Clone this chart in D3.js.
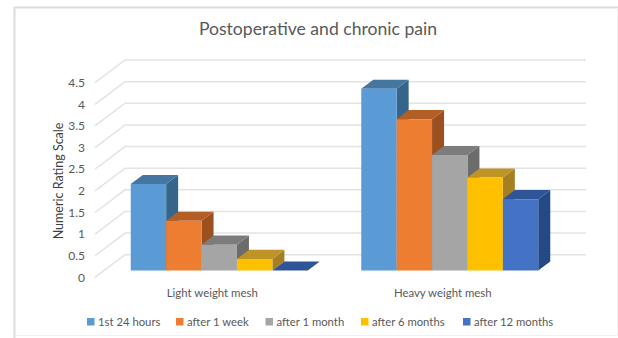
<!DOCTYPE html>
<html>
<head>
<meta charset="utf-8">
<script src="https://cdn.jsdelivr.net/npm/d3@7/dist/d3.min.js"></script>
<style>
  html, body { margin: 0; padding: 0; background: #fff; }
  svg { display: block; font-family: Lato, "Open Sans", sans-serif; }
</style>
</head>
<body>
<svg id="chart" width="618" height="338"></svg>
<script>
// Pain scores per mesh type and follow-up time
const categories = ["Light weight mesh", "Heavy weight mesh"];
const seriesNames = ["1st 24 hours", "after 1 week", "after 1 month", "after 6 months", "after 12 months"];
const lightMesh = [2.0, 1.15, 0.6, 0.27, 0.0];
const heavyMesh = [4.2, 3.5, 2.67, 2.15, 1.65];
const tickValues = [0, 0.5, 1, 1.5, 2, 2.5, 3, 3.5, 4, 4.5];
const frontColors = ["#5b9bd5", "#ed7d31", "#a5a5a5", "#ffc000", "#4472c4"];
const topColors = ["#44769f", "#b25e25", "#7c7c7c", "#bf9426", "#2f5597"];
const sideColors = ["#36658c", "#9c5020", "#6c6c6c", "#a67f24", "#234a85"];

const svg = d3.select("#chart");

// Chart frame: heavier on the top and left edges
svg.append("path").attr("d", "M14.5,338V7.5H618").attr("fill", "none").attr("stroke", "#dcdcdc").attr("stroke-width", 2);
svg.append("path").attr("d", "M617.5,8V335.5H15").attr("fill", "none").attr("stroke", "#f1f1f1").attr("stroke-width", 1);

// Oblique projection: depth runs from 0 at the front to 1 at the back wall
const depthX = 30, depthY = 22.7;
const x0 = d3.scaleBand().domain(categories).range([95, 556]);
const x1 = d3.scaleBand().domain(seriesNames).range([0, 1]);
const y = d3.scaleLinear().domain([0, 4.5]).range([277.4, 82.7]);
const px = (x, z) => x + depthX * z;
const py = (v, z) => y(v) - depthY * z;

// Wall and floor gridlines
const grid = svg.append("g").attr("fill", "none").attr("stroke", "#e3e3e3").attr("stroke-width", 1.5);
grid.selectAll("path").data(tickValues).join("path")
  .attr("d", v => d3.line()([
    [px(x0.range()[0], 0), py(v, 0)],
    [px(x0.range()[0], 1), py(v, 1)],
    [px(x0.range()[1], 1), py(v, 1)]
  ]));

// Bars sit in the middle of the depth range
const zFront = 0.3, zBack = 0.7;
const groupPad = 26.75;
const innerWidth = x0.bandwidth() - groupPad * 2;
const barX = (cat, name) => x0(cat) + groupPad + x1(name) * innerWidth;
const barW = innerWidth * x1.bandwidth();

const rows = categories.map((c, i) => ({ cat: c, values: i === 0 ? lightMesh : heavyMesh }));
const poly = pts => d3.line()(pts) + "Z";
rows.forEach(row => {
  const bars = row.values.map((v, i) => ({ v, i, name: seriesNames[i] }));
  // Painted left to right, so each bar's front hides the lower part of its neighbour's side
  const sel = svg.append("g").selectAll("g").data(bars).join("g");
  sel.append("path").attr("fill", d => sideColors[d.i]).attr("d", d => {
    const a = barX(row.cat, d.name) + barW;
    return poly([[px(a, zFront), py(d.v, zFront)], [px(a, zBack), py(d.v, zBack)], [px(a, zBack), py(0, zBack)], [px(a, zFront), py(0, zFront)]]);
  });
  sel.append("path").attr("fill", d => topColors[d.i]).attr("d", d => {
    const a = barX(row.cat, d.name), b = a + barW;
    return poly([[px(a, zFront), py(d.v, zFront)], [px(b, zFront), py(d.v, zFront)], [px(b, zBack), py(d.v, zBack)], [px(a, zBack), py(d.v, zBack)]]);
  });
  sel.append("path").attr("fill", d => frontColors[d.i]).attr("d", d => {
    const a = barX(row.cat, d.name), b = a + barW;
    return poly([[px(a, zFront), py(d.v, zFront)], [px(b, zFront), py(d.v, zFront)], [px(b, zFront), py(0, zFront)], [px(a, zFront), py(0, zFront)]]);
  });
});

// Value axis labels
svg.append("g").selectAll("text").data(tickValues).join("text")
  .attr("x", 85).attr("y", v => y(v)).attr("dy", "0.35em")
  .attr("text-anchor", "end").attr("font-size", 12).attr("fill", "#595959")
  .text(v => String(v));

// Category labels
svg.append("g").selectAll("text").data(categories).join("text")
  .attr("x", c => x0(c) + x0.bandwidth() / 2 + 2).attr("y", 297)
  .attr("text-anchor", "middle").attr("font-size", 11.4).attr("fill", "#595959")
  .text(c => c);

// Titles
svg.append("text").attr("x", 318).attr("y", 35).attr("text-anchor", "middle")
  .attr("font-size", 17.6).attr("fill", "#595959").text("Postoperative and chronic pain");
svg.append("text").attr("transform", "translate(63,181) rotate(-90)").attr("text-anchor", "middle")
  .attr("font-size", 12.5).attr("fill", "#404040").text("Numeric Rating Scale");

// Legend
const legendSwatchX = [87, 176, 265.5, 361, 463];
const legend = svg.append("g").selectAll("g").data(seriesNames).join("g")
  .attr("transform", (d, i) => `translate(${legendSwatchX[i]},322)`);
legend.append("rect").attr("y", -4).attr("width", 7.5).attr("height", 7.5)
  .attr("fill", (d, i) => frontColors[i]);
legend.append("text").attr("x", 11).attr("y", 0).attr("dy", "0.35em")
  .attr("font-size", 11.3).attr("fill", "#595959").text(d => d);
</script>
</body>
</html>
